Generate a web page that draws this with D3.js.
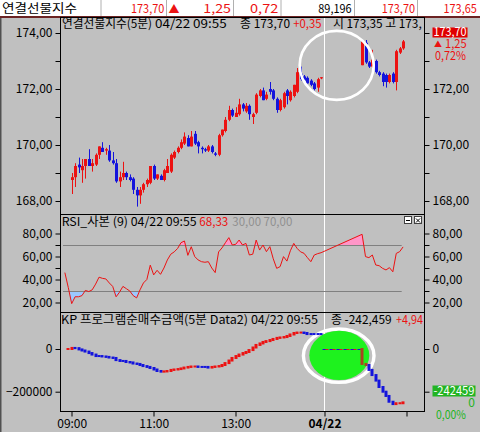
<!DOCTYPE html>
<html><head><meta charset="utf-8">
<script src="https://cdn.jsdelivr.net/npm/d3@7"></script>
<style>html,body{margin:0;padding:0;background:#c0c0c0;overflow:hidden}svg{display:block}</style>
</head><body>
<svg id="chart" width="480" height="432"></svg>
<script>
// ---------------- data ----------------
const day1Start = 0;
const day1Candles = [
[168.75,169.0,168.25,168.85],[168.85,169.35,168.5,169.25],[169.3,169.55,169.0,169.2],[169.1,169.5,168.65,169.25],
[169.25,169.5,168.8,169.5],[169.5,169.85,169.25,169.25],[169.25,169.5,169.05,169.35],[169.3,169.7,169.25,169.65],
[169.65,169.95,169.5,169.95],[169.9,170.1,169.75,169.75],[169.8,169.9,169.65,169.85],[169.8,170.0,169.4,169.45],
[169.45,169.75,169.3,169.35],[169.35,169.5,168.65,168.7],[168.7,169.05,168.5,168.85],[168.85,169.4,168.75,169.0],
[169.0,169.05,168.75,168.85],[168.85,168.95,168.7,168.75],[168.8,168.85,168.25,168.4],[168.4,168.5,167.8,168.2],
[168.2,168.5,167.9,168.4],[168.4,168.65,168.3,168.6],[168.6,168.8,168.5,168.75],[168.65,169.25,168.6,169.25],
[169.25,169.3,168.75,168.8],[168.8,168.95,168.75,168.95],[168.9,168.95,168.75,168.75],[168.75,169.15,168.7,169.1],
[169.0,169.5,169.0,169.25],[169.05,169.7,169.0,169.65],[169.55,169.8,169.5,169.75],[169.75,169.95,169.7,169.9],
[169.9,170.2,169.85,170.1],[170.05,170.45,170.0,170.3],[170.25,170.35,169.95,169.95],[169.95,170.5,169.95,170.3],
[170.4,170.5,170.0,170.05],[170.1,170.15,169.7,169.95],[169.9,169.95,169.7,169.85],[169.85,169.9,169.75,169.8],
[169.8,170.0,169.75,169.95],[169.95,170.0,169.7,169.75],[169.7,169.75,169.6,169.65],[169.65,170.4,169.6,170.35],
[170.35,170.55,170.3,170.55],[170.5,171.0,170.45,170.9],[170.9,171.4,170.85,171.25],[171.25,171.3,171.0,171.05],
[171.0,171.35,171.0,171.15],[171.1,171.65,171.05,171.45],[171.45,171.5,171.2,171.3],[171.2,171.5,171.15,171.4],
[171.4,171.45,170.9,171.1],[171.0,171.15,170.75,171.1],[171.15,171.85,171.1,171.8],[171.75,172.0,171.7,171.95],
[171.95,172.05,171.6,171.6],[171.65,171.9,171.6,171.8],[172.0,172.25,171.8,171.9],[171.95,172.0,171.6,171.65],
[171.65,171.7,171.15,171.25],[171.25,171.65,171.2,171.6],[171.35,171.9,171.3,171.85],[171.95,172.0,171.45,171.75],
[171.6,171.95,171.55,171.9],[171.75,172.15,171.7,172.15],[171.9,172.75,171.85,172.6],[172.55,172.8,172.3,172.35],
[172.45,172.5,172.3,172.3],[172.4,172.45,172.2,172.2],[172.3,172.35,172.1,172.15],[172.2,172.25,171.95,172.0],
[172.05,172.4,171.9,172.35],[172.38,172.42,172.35,172.42]
];
const day2Start = 85;
const day2Candles = [
[172.85,173.75,172.85,173.7],[173.65,173.75,172.9,172.95],[172.95,173.0,172.75,172.8],[172.8,173.4,172.75,173.05],
[173.0,173.05,172.55,172.6],[172.6,172.65,172.45,172.5],[172.55,172.6,172.1,172.25],[172.5,172.55,172.05,172.25],
[172.25,172.55,172.2,172.5],[172.55,172.6,172.2,172.25],[172.25,173.4,171.95,173.35],[173.3,173.5,173.25,173.45],
[173.45,173.75,173.4,173.7]
];
const rsiDay1Start = -2;
const rsiDay1 = [46,33,19,25,25,26,30.5,29.5,31,36,42,41,40.5,37,34,25,29,34,32,30,26,24,31,37,40,52.5,44,48,44.5,50,
57,62,64,67,72,73.5,61,68.5,60,57,55.5,55,55.5,50,46,64,67.5,72,76.4,70,70.6,74.3,70,71.4,61.3,62,74.3,65.6,70,64.2,
68.6,58,49.7,51.2,59.9,56,65,71.4,67,64,62.8,59,55.5,61.3,62.5,63.3];
const rsiDay2 = [79.3,59.9,59,61.3,52.6,52,49.7,48.3,50.3,46.7,62.7,64.2,68.33];
const rsiBands = [30, 70];
const kpDay1Start = -1;
const kpDay1 = [0,5000,4000,-2000,-7000,-12000,-19000,-26000,-33000,-33000,-35000,-37000,-40000,-42000,-52000,-56000,
-56000,-61000,-63000,-68000,-70000,-75000,-80000,-84000,-89000,-96000,-103000,-106000,-105000,-103000,-98000,-96000,
-94000,-91000,-87000,-84000,-82000,-82000,-84000,-84000,-84000,-87000,-84000,-82000,-80000,-75000,-66000,-54000,-42000,
-33000,-26000,-19000,-14000,-5000,7000,19000,26000,33000,37000,42000,47000,52000,54000,56000,61000,68000,75000,77000,
77000,75000,70000,70000,70000,70000,70000];
const kpDay2 = [-70000,-75000,-98000,-122000,-148000,-178000,-200000,-220000,-247000,-258000,-254000,-254000,-250000];
const priceTicks = [168,169,170,171,172,173,174];
const rsiTicks = [20,30,40,50,60,70,80];
const kpTicks = [-200000, 0];
const timeTicks = [0,24,48,74,98];
const timeLabels = ["09:00","11:00","13:00","04/22",""];
const sessionBreak = 74;
const quoteCells = ["연결선물지수","173,70","1,25","0,72","89,196","173,70","173,65"];

// ---------------- drawing ----------------
const FONT = '"Noto Sans CJK KR","Noto Sans",sans-serif';
const svg = d3.select('#chart');
const L = 60.5, R = 424.5;
const P1 = {t:17.5, b:214.5}, P2 = {t:214.5, b:312.5}, P3 = {t:312.5, b:411.5};
const RED = '#ec1212', BLUE = '#1414dc', GREEN = '#22b422';

const x = d3.scaleLinear().domain([0, 98]).range([71.7, 406.5]);
const yP = d3.scaleLinear().domain([168, 174]).range([201, 33]);
const yR = d3.scaleLinear().domain([0, 100]).range([325.5, 210.5]);
const yK = d3.scaleLinear().domain([-200000, 0]).range([391.7, 349]);

function T(g, xx, yy, str, opt = {}) {
  const t = g.append('text').attr('x', xx).attr('y', yy).text(str)
    .attr('font-family', FONT).attr('font-size', opt.size || 12)
    .attr('fill', opt.fill || '#000');
  if (opt.len) t.attr('textLength', opt.len).attr('lengthAdjust', 'spacingAndGlyphs');
  if (opt.anchor) t.attr('text-anchor', opt.anchor);
  if (opt.weight) t.attr('font-weight', opt.weight);
  return t;
}

svg.append('rect').attr('width', 480).attr('height', 432).attr('fill', '#c0c0c0');
const defs = svg.append('defs');
[['clip1', P1], ['clip2', P2], ['clip3', P3]].forEach(([id, p]) => {
  defs.append('clipPath').attr('id', id).append('rect')
    .attr('x', L).attr('y', p.t).attr('width', R - L).attr('height', p.b - p.t);
});
defs.append('clipPath').attr('id', 'clipHi').append('rect')
  .attr('x', L).attr('y', P2.t).attr('width', R - L).attr('height', yR(70) - P2.t);
defs.append('clipPath').attr('id', 'clipLo').append('rect')
  .attr('x', L).attr('y', yR(30)).attr('width', R - L).attr('height', P2.b - yR(30));

// top quote bar
svg.append('rect').attr('x', 0).attr('y', 0).attr('width', 480).attr('height', 16).attr('fill', '#fff');
[101, 166.5, 233.5, 281, 354.5, 417.5].forEach(sx => {
  svg.append('line').attr('x1', sx).attr('x2', sx).attr('y1', 0).attr('y2', 16).attr('stroke', '#b0b0b0');
});
svg.append('rect').attr('x', 0).attr('y', 16).attr('width', 480).attr('height', 2).attr('fill', '#6b2323');
T(svg, 2, 12.7, quoteCells[0], {len: 75});
T(svg, 131, 12.7, quoteCells[1], {len: 33.3, fill: RED});
T(svg, 174, 12.5, '▲', {size: 11, fill: RED, anchor: 'middle'});
T(svg, 203.3, 12.7, quoteCells[2], {len: 27.7, fill: RED});
T(svg, 250, 12.7, quoteCells[3], {len: 28.3, fill: RED});
T(svg, 318.3, 12.7, quoteCells[4], {len: 33.4});
T(svg, 381.7, 12.7, quoteCells[5], {len: 33.3, fill: RED});
T(svg, 443.5, 12.7, quoteCells[6], {len: 33.3, fill: RED});

// left outer border
svg.append('rect').attr('x', 0).attr('y', 18).attr('width', 1.5).attr('height', 414).attr('fill', '#505050');

// session break line
const bx = Math.floor(x(sessionBreak)) + 0.5;
svg.append('line').attr('x1', bx).attr('x2', bx).attr('y1', P1.t).attr('y2', P3.b)
  .attr('stroke', '#fff').attr('stroke-width', 1);

// ---- Panel 1: candles ----
const candles = day1Candles.map((d, k) => ({i: day1Start + k, o: d[0], h: d[1], l: d[2], c: d[3]}))
  .concat(day2Candles.map((d, k) => ({i: day2Start + k, o: d[0], h: d[1], l: d[2], c: d[3]})));
const cColor = d => d.c >= d.o ? RED : BLUE;
const g1 = svg.append('g').attr('clip-path', 'url(#clip1)');
g1.selectAll('line.wick').data(candles).join('line').attr('class', 'wick')
  .attr('x1', d => Math.round(x(d.i)) + 0.5).attr('x2', d => Math.round(x(d.i)) + 0.5)
  .attr('y1', d => yP(d.h)).attr('y2', d => yP(d.l)).attr('stroke', cColor);
g1.selectAll('rect.body').data(candles).join('rect').attr('class', 'body')
  .attr('x', d => Math.round(x(d.i)) - 1).attr('width', 3)
  .attr('y', d => yP(Math.max(d.o, d.c)))
  .attr('height', d => Math.max(1, Math.abs(yP(d.o) - yP(d.c))))
  .attr('fill', cColor);
// annotation circle
g1.append('ellipse').attr('cx', 336.7).attr('cy', 65.3).attr('rx', 37).attr('ry', 34.5)
  .attr('fill', 'none').attr('stroke', '#fff').attr('stroke-width', 2.7);

// header 1
T(svg, 62, 28.3, '연결선물지수(5분)', {len: 90});
T(svg, 155, 28.3, '04/22 09:55', {len: 71.7});
T(svg, 240, 28.3, '종 173,70', {len: 50});
T(svg, 293.3, 28.3, '+0,35', {len: 28.3, fill: RED});
T(svg, 333, 28.3, '시 173,35 고 173,', {len: 88.7});

// ---- Panel 2: RSI ----
const rsi = rsiDay1.map((v, k) => ({i: rsiDay1Start + k, v}))
  .concat(rsiDay2.map((v, k) => ({i: day2Start + k, v})));
const g2 = svg.append('g').attr('clip-path', 'url(#clip2)');
g2.append('g').attr('clip-path', 'url(#clipHi)').append('path').datum(rsi)
  .attr('d', d3.area().x(d => x(d.i)).y0(yR(70)).y1(d => yR(d.v))).attr('fill', '#ff96c8');
g2.append('g').attr('clip-path', 'url(#clipLo)').append('path').datum(rsi)
  .attr('d', d3.area().x(d => x(d.i)).y0(yR(30)).y1(d => yR(d.v))).attr('fill', '#9cc8ff');
rsiBands.forEach(b => {
  g2.append('line').attr('x1', 63).attr('x2', 401.7).attr('y1', Math.round(yR(b)) + 0.5).attr('y2', Math.round(yR(b)) + 0.5)
    .attr('stroke', '#808080');
});
g2.append('path').datum(rsi).attr('d', d3.line().x(d => x(d.i)).y(d => yR(d.v)))
  .attr('fill', 'none').attr('stroke', RED).attr('stroke-width', 1);
T(svg, 61.7, 225.5, 'RSI_사본 (9) 04/22 09:55', {len: 135});
T(svg, 199.3, 225.5, '68,33', {len: 29, fill: RED});
T(svg, 232.3, 225.5, '30,00 70,00', {len: 60, fill: '#909090'});
[[404.5, 'min'], [414.5, 'x']].forEach(([bxx, kind]) => {
  svg.append('rect').attr('x', bxx).attr('y', 216.5).attr('width', 7).attr('height', 7)
    .attr('fill', '#fff').attr('stroke', '#404040');
  if (kind === 'min') {
    svg.append('line').attr('x1', bxx + 1.5).attr('x2', bxx + 5.5).attr('y1', 220.5).attr('y2', 220.5).attr('stroke', '#000');
  } else {
    svg.append('path').attr('d', `M${bxx+1.5},218.5L${bxx+5.5},222.5M${bxx+5.5},218.5L${bxx+1.5},222.5`).attr('stroke', '#000');
  }
});

// ---- Panel 3: KP program ----
const g3 = svg.append('g').attr('clip-path', 'url(#clip3)');
g3.append('ellipse').attr('cx', 338.7).attr('cy', 355.7).attr('rx', 35.3).attr('ry', 26.7)
  .attr('fill', 'none').attr('stroke', '#fff').attr('stroke-width', 3.4);
g3.append('ellipse').attr('cx', 339.3).attr('cy', 355.4).attr('rx', 30).attr('ry', 24.7).attr('fill', '#1ef21e');
// gap dashed line
const gy = Math.round(yK(0)) + 0.5;
g3.append('line').attr('x1', x(sessionBreak) - 2).attr('x2', x(day2Start) - 1).attr('y1', gy).attr('y2', gy)
  .attr('stroke', BLUE).attr('stroke-dasharray', '4,3');
g3.append('line').attr('x1', x(sessionBreak) - 2).attr('x2', x(day2Start) - 1).attr('y1', gy).attr('y2', gy)
  .attr('stroke', RED).attr('stroke-dasharray', '3,4').attr('stroke-dashoffset', 4);
function kpBlocks(series, start, prev0, firstColors) {
  let prev = prev0, lastColor = RED;
  const blocks = series.map((v, k) => {
    let col = v > prev ? RED : (v < prev ? BLUE : lastColor);
    lastColor = col;
    if (firstColors && k < firstColors.length) col = firstColors[k];
    const ya = yK(prev), yb = yK(v);
    const b = {i: start + k, y0: Math.min(ya, yb) - 1, y1: Math.max(ya, yb) + 1, col};
    prev = v;
    return b;
  });
  g3.append('g').selectAll('rect').data(blocks).join('rect')
    .attr('x', d => Math.round(x(d.i)) - 1.5).attr('width', 3)
    .attr('y', d => d.y0).attr('height', d => Math.max(2, d.y1 - d.y0))
    .attr('fill', d => d.col);
}
kpBlocks(kpDay1, kpDay1Start, kpDay1[0], null);
kpBlocks(kpDay2, day2Start, 0, ['#a8461e', '#a8461e']);
T(svg, 61, 323.5, 'KP 프로그램순매수금액(5분 Data2) 04/22 09:55', {len: 257});
T(svg, 331, 323.5, '종 -242,459', {len: 60.7});
T(svg, 396, 323.5, '+4,94', {len: 27, fill: RED});

// ---- axes ----
const fmt2 = d => d.toFixed(2).replace('.', ',');
function styleAxis(g) {
  g.select('.domain').remove();
  g.selectAll('line').attr('stroke', '#000');
  g.selectAll('text').attr('font-size', 12).attr('font-family', FONT).attr('fill', '#000');
}
// right-hand labels hidden under the value boxes in the reference are left blank
const pFmtL = d => (d % 2 === 0 ? fmt2(d) : '');
const pFmtR = d => (d % 2 === 0 && d !== 174 ? fmt2(d) : '');
const rFmt = d => (d % 20 === 0 ? fmt2(d) : '');
const kFmtL = d => d3.format('d')(d);
const kFmtR = d => (d === 0 ? '0' : '');
[[d3.axisLeft, L, pFmtL, kFmtL], [d3.axisRight, R, pFmtR, kFmtR]].forEach(([ax, pos, pf, kf]) => {
  svg.append('g').attr('transform', `translate(${pos},0)`)
    .call(ax(yP).tickValues(priceTicks).tickFormat(pf).tickSize(5).tickPadding(3)).call(styleAxis);
  svg.append('g').attr('transform', `translate(${pos},0)`)
    .call(ax(yR).tickValues(rsiTicks).tickFormat(rFmt).tickSize(5).tickPadding(3)).call(styleAxis);
  svg.append('g').attr('transform', `translate(${pos},0)`)
    .call(ax(yK).tickValues(kpTicks).tickFormat(kf).tickSize(5).tickPadding(3)).call(styleAxis);
});
const xa = svg.append('g').attr('transform', `translate(0,${P3.b})`)
  .call(d3.axisBottom(x).tickValues(timeTicks).tickFormat((d, k) => timeLabels[k]).tickSize(5).tickPadding(3))
  .call(styleAxis);
xa.selectAll('line').attr('transform', d => `translate(${Math.floor(x(d)) + 0.5 - x(d)},0)`);
xa.selectAll('text').filter(d => d === sessionBreak).attr('font-weight', 'bold');

// panel borders
[P1, P2, P3].forEach(p => {
  svg.append('rect').attr('x', L).attr('y', p.t).attr('width', R - L).attr('height', p.b - p.t)
    .attr('fill', 'none').attr('stroke', '#000');
});

// right-side value labels
svg.append('rect').attr('x', 432.5).attr('y', 27.5).attr('width', 35).attr('height', 10).attr('fill', '#e00000');
T(svg, 433.5, 36.3, '173,70', {len: 33, fill: '#fff'});
T(svg, 438, 47, '▲', {size: 8, fill: RED, anchor: 'middle'});
T(svg, 445, 47.5, '1,25', {len: 21.7, fill: RED});
T(svg, 435, 59.5, '0,72%', {len: 31, fill: RED});
svg.append('rect').attr('x', 432.5).attr('y', 385.5).attr('width', 43).attr('height', 11).attr('fill', GREEN);
T(svg, 433.5, 395, '-242459', {len: 41, fill: '#fff'});
T(svg, 475, 406.5, '0', {fill: GREEN, anchor: 'end'});
T(svg, 436, 418.5, '0,00%', {len: 30, fill: GREEN});
</script>
</body></html>
